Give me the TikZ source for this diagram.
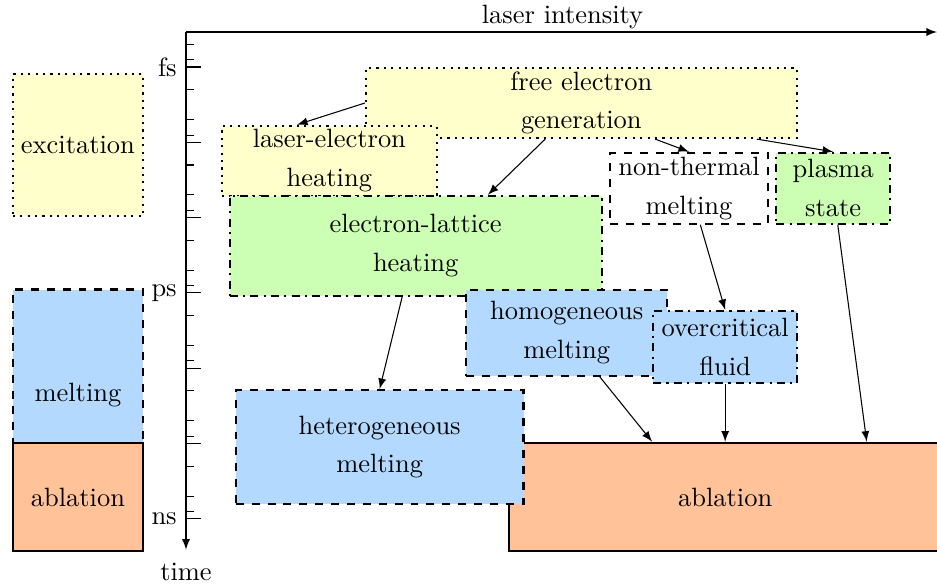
\documentclass[tikz,border=0pt]{standalone}
\usepackage{amsmath}
\usepackage{tikz}

\definecolor{exyellow}{HTML}{FFFFCC}
\definecolor{hotgreen}{HTML}{CCFFB3}
\definecolor{meltblue}{HTML}{B3D9FF}
\definecolor{ablorange}{HTML}{FFC299}

\begin{document}
\begin{tikzpicture}[
    box/.style={rectangle, draw, thick, align=center, inner sep=0pt,
      font=\linespread{1.22}\selectfont},
    excbox/.style={box, fill=exyellow, dotted},
    heatbox/.style={box, fill=hotgreen, dash dot},
    meltbox/.style={box, fill=meltblue, dashed},
    ablbox/.style={box, fill=ablorange, solid},
    link/.style={-latex}
  ]
  \useasboundingbox (-2.470,-6.853) rectangle (9.973,0.890);

  % axes
  \draw[-latex] (0,0.465) -- (0,-6.41);
  \draw[-latex] (0,0.465) -- (9.973,0.465);
  \node (tlabel) at (0,-6.706) {time};
  \node (ilabel) at (5.0,0.665) {laser intensity};
  \foreach \d in {0,...,6}
    \draw (0,-\d) -- ++(0.2,0);
  \foreach \d in {0,...,5}
    \foreach \m in {2,5,8}
      \draw (0,{-\d-log10(\m)}) -- ++(0.1,0);
  \foreach \m in {5,8}
    \draw (0,{1-log10(\m)}) -- ++(0.1,0);
  \foreach \y/\t in {0/fs,-3/ps,-6/ns}
    \node[anchor=east] (tick\t) at (0,\y) {\t};

  % legend column
  \node[excbox, minimum width=1.73cm, minimum height=1.89cm] (excite) at (-1.435,-1.036) {excitation};
  \node[meltbox, minimum width=1.73cm, minimum height=2.79cm] (meltleft) at (-1.435,-4.35) {melting};
  \node[ablbox, minimum width=1.73cm, minimum height=1.44cm] (ablleft) at (-1.435,-5.71) {ablation};

  % processes
  \node[excbox, minimum width=5.72cm, minimum height=0.93cm] (freeel) at (5.25,-0.478) {free electron\\generation};
  \node[excbox, minimum width=2.85cm, minimum height=0.93cm] (laserel) at (1.904,-1.245) {laser-electron\\heating};
  \node[heatbox, minimum width=4.94cm, minimum height=1.33cm] (ellat) at (3.05,-2.375) {electron-lattice\\heating};
  \node[box, fill=white, dashed, minimum width=2.10cm, minimum height=0.94cm] (nontherm) at (6.68,-1.61) {non-thermal\\melting};
  \node[heatbox, minimum width=1.51cm, minimum height=0.94cm] (plasma) at (8.595,-1.61) {plasma\\state};
  \node[meltbox, minimum width=2.67cm, minimum height=1.14cm] (homog) at (5.055,-3.53) {homogeneous\\melting};
  \node[heatbox, fill=meltblue, minimum width=1.91cm, minimum height=0.96cm] (overcrit) at (7.16,-3.72) {overcritical\\fluid};
  \node[ablbox, minimum width=5.74cm, minimum height=1.44cm] (ablright) at (7.16,-5.71) {ablation};
  \node[meltbox, minimum width=3.82cm, minimum height=1.51cm] (heterog) at (2.572,-5.045) {heterogeneous\\melting};

  % links
  \draw[link] (freeel.west) -- ([xshift=-0.43cm]laserel.north);
  \draw[link] ([xshift=-0.48cm]freeel.south) -- ([xshift=0.96cm]ellat.north);
  \draw[link] ([xshift=0.98cm]freeel.south) -- (nontherm.north);
  \draw[link] ([xshift=2.33cm]freeel.south) -- (plasma.north);
  \draw[link] ([xshift=-0.18cm]ellat.south) -- (heterog.north);
  \draw[link] ([xshift=0.15cm]nontherm.south) -- (overcrit.north);
  \draw[link] ([xshift=0.44cm]homog.south) -- ([xshift=-0.97cm]ablright.north);
  \draw[link] (overcrit.south) -- (ablright.north);
  \draw[link] ([xshift=0.06cm]plasma.south) -- ([xshift=1.88cm]ablright.north);
\end{tikzpicture}
\end{document}
